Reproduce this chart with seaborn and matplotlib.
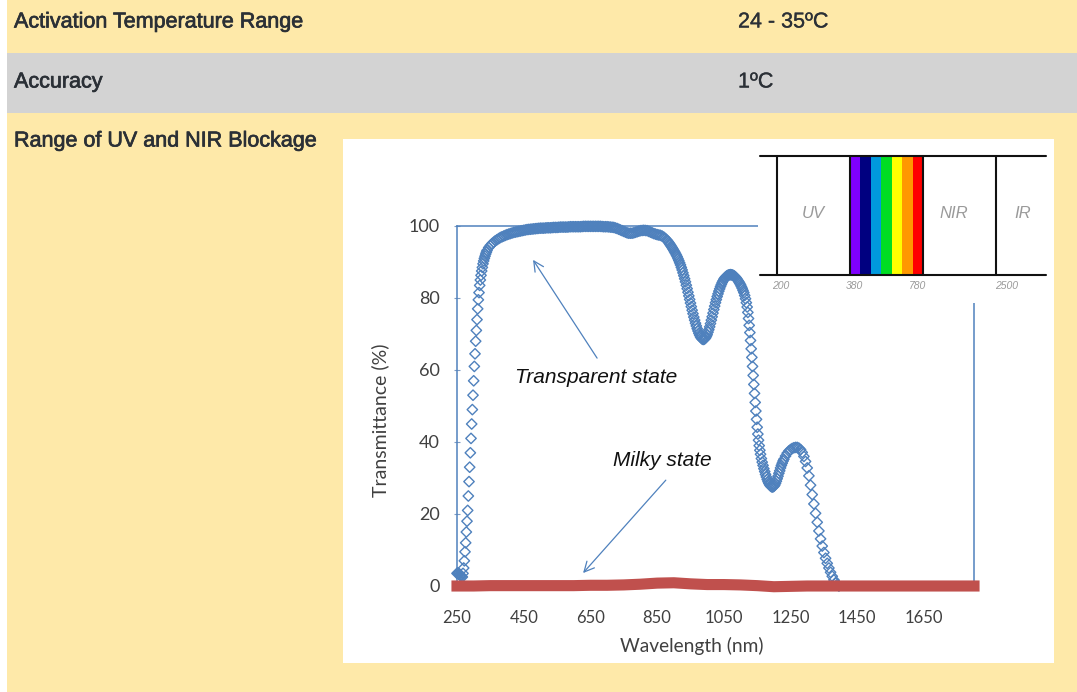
import matplotlib
matplotlib.use("Agg")
import matplotlib.pyplot as plt
import matplotlib.patheffects as pe
from matplotlib.patches import Rectangle
import seaborn as sns

# ==================== Data ====================
ROW_LABELS = ["Activation Temperature Range", "Accuracy", "Range of UV and NIR Blockage"]
ROW_VALUES = ["24 - 35ºC", "1ºC"]

# Transparent state
WL_TRANS = [
    250, 252, 254, 256, 258, 260, 262, 264, 266,
    268, 270, 272, 274, 276, 278, 280, 282, 284, 286, 288, 290, 292, 294,
    296, 298, 300, 302, 304, 306, 308, 310, 312, 314, 316, 318, 320,
    322, 324, 326, 328, 330, 332, 334, 336, 338,
    340, 345, 350, 355, 360, 365, 370, 375, 380, 385, 390, 395, 400, 405,
    410, 415, 420, 425, 430, 435, 440, 445, 450, 455, 460, 465, 470, 475,
    480, 485, 490, 495, 500, 505, 510, 515, 520, 525, 530, 535, 540, 545,
    550, 555, 560, 565, 570, 575, 580, 585, 590, 595, 600, 605, 610, 615,
    620, 625, 630, 635, 640, 645, 650, 655, 660, 665, 670, 675, 680, 685,
    690, 695, 700, 705, 710, 715, 720, 725, 730, 735, 740, 745, 750, 755,
    760, 765, 770, 775, 780, 785, 790, 795, 800, 805, 810, 815, 820, 825,
    830, 835, 840, 845, 850, 855, 860, 865, 870, 875,
    880, 882.5, 885, 887.5, 890, 892.5, 895, 897.5, 900, 902.5, 905, 907.5,
    910, 912.5, 915, 917.5, 920, 922.5, 925, 927.5, 930, 932.5, 935, 937.5,
    940, 942.5, 945, 947.5, 950, 952.5, 955, 957.5, 960, 962.5, 965, 967.5,
    970, 972.5, 975, 977.5, 980, 982.5, 985, 987.5, 990, 992.5, 995, 997.5,
    1000, 1002.5, 1005, 1007.5, 1010, 1012.5, 1015, 1017.5, 1020, 1022.5,
    1025, 1027.5, 1030, 1032.5, 1035, 1037.5, 1040, 1042.5, 1045, 1047.5,
    1050, 1052.5, 1055, 1057.5, 1060, 1062.5, 1065, 1067.5, 1070, 1072.5,
    1075, 1077.5, 1080, 1082.5, 1085, 1087.5, 1090, 1092.5, 1095, 1097.5,
    1100, 1102.5, 1105, 1107.5, 1110, 1112.5, 1115, 1117.5, 1120,
    1122, 1124, 1126, 1128, 1130, 1132, 1134, 1136, 1138, 1140, 1142, 1144,
    1146, 1148, 1150, 1152, 1154, 1156, 1158, 1160,
    1162.5, 1165, 1167.5, 1170, 1172.5, 1175, 1177.5, 1180, 1182.5, 1185,
    1187.5, 1190, 1192.5, 1195, 1197.5, 1200, 1202.5, 1205, 1207.5, 1210,
    1212.5, 1215, 1217.5, 1220, 1222.5, 1225, 1227.5, 1230, 1235, 1240,
    1245, 1250, 1255, 1260, 1265, 1270, 1275, 1280,
    1285, 1290, 1295, 1300, 1305, 1310, 1315, 1320, 1325, 1330, 1335, 1340,
    1345, 1350, 1355, 1360, 1365, 1370, 1375, 1380, 1385, 1390, 1395,
]
T_TRANS = [
    3.5, 3.6, 3.5, 3.4, 3.2, 3.0, 2.8, 2.6, 2.5,
    3.5, 5.0, 7.0, 9.5, 12, 15, 18, 21, 25, 29, 33, 37, 41, 45,
    49, 53, 57, 61, 64.5, 68, 71, 74, 77, 79.5, 81.5, 83.5, 85,
    86.3, 87.5, 88.5, 89.5, 90.3, 91.0, 91.6, 92.2, 92.7,
    93.2, 94.0, 94.6, 95.1, 95.5, 95.9, 96.2, 96.5, 96.8, 97.0, 97.2, 97.4, 97.6, 97.75,
    97.9, 98.05, 98.2, 98.3, 98.4, 98.5, 98.6, 98.7, 98.8, 98.9, 99.0, 99.05, 99.1, 99.15,
    99.2, 99.25, 99.3, 99.35, 99.4, 99.4, 99.4, 99.45, 99.5, 99.5, 99.5, 99.55, 99.6, 99.6,
    99.6, 99.65, 99.7, 99.7, 99.7, 99.7, 99.7, 99.75, 99.8, 99.8, 99.8, 99.8, 99.8, 99.8,
    99.8, 99.85, 99.9, 99.9, 99.9, 99.9, 99.9, 99.9, 99.9, 99.9, 99.9, 99.9, 99.9, 99.85,
    99.8, 99.8, 99.8, 99.75, 99.7, 99.65, 99.6, 99.45, 99.3, 99.1, 98.9, 98.7, 98.5, 98.3,
    98.1, 98.0, 98.0, 98.0, 98.1, 98.25, 98.4, 98.55, 98.7, 98.75, 98.8, 98.75, 98.7, 98.5,
    98.3, 98.1, 97.9, 97.75, 97.6, 97.5, 97.4, 97.2, 96.9, 96.5,
    96.0, 95.7, 95.4, 95.05, 94.7, 94.35, 94.0, 93.6, 93.2, 92.8, 92.4, 91.95,
    91.5, 90.95, 90.4, 89.8, 89.2, 88.5, 87.8, 87.0, 86.2, 85.35, 84.5, 83.55,
    82.6, 81.6, 80.6, 79.6, 78.6, 77.6, 76.6, 75.65, 74.7, 73.85, 73.0, 72.25,
    71.5, 70.85, 70.2, 69.7, 69.2, 68.9, 68.6, 68.5, 68.5, 68.65, 68.9, 69.3,
    69.8, 70.5, 71.2, 72.0, 72.9, 73.85, 74.8, 75.8, 76.8, 77.75,
    78.7, 79.55, 80.4, 81.15, 81.9, 82.55, 83.2, 83.75, 84.3, 84.75,
    85.2, 85.5, 85.8, 86.0, 86.2, 86.3, 86.4, 86.45, 86.5, 86.45,
    86.4, 86.3, 86.2, 86.0, 85.8, 85.5, 85.2, 84.85, 84.5, 84.1,
    83.7, 83.2, 82.7, 82.1, 81.5, 80.7, 79.8, 78.7, 77.5,
    76.0, 74.3, 72.4, 70.4, 68.2, 65.9, 63.5, 61.0, 58.5, 56.0, 53.5, 51.0,
    48.6, 46.3, 44.1, 42.2, 40.5, 39.0, 37.7, 36.6,
    35.4, 34.4, 33.5, 32.6, 31.8, 31.0, 30.3, 29.6, 29.0, 28.5,
    28.1, 27.8, 27.6, 27.5, 27.55, 27.7, 28.0, 28.5, 29.1, 29.8,
    30.5, 31.3, 32.0, 32.8, 33.5, 34.1, 34.7, 35.2, 36.1, 36.9,
    37.5, 37.9, 38.2, 38.4, 38.5, 38.5, 38.3, 37.9,
    37.1, 36.0, 34.6, 32.8, 30.6, 28.0, 25.4, 22.8, 20.2, 17.7, 15.3, 13.1,
    11.1, 9.3, 7.7, 6.3, 5.0, 3.8, 2.7, 1.7, 0.9, 0.4, 0.0,
]

# Milky state
WL_MILKY = [250, 300, 350, 400, 450, 500, 550, 600, 650, 700, 750, 800, 850, 900,
            950, 1000, 1050, 1100, 1150, 1200, 1250, 1300, 1350, 1400, 1450, 1500,
            1550, 1600, 1650, 1700, 1750, 1800]
T_MILKY = [0.0, 0.0, 0.1, 0.1, 0.1, 0.1, 0.1, 0.1, 0.2, 0.2, 0.3, 0.5, 0.8, 0.9,
           0.6, 0.4, 0.4, 0.3, 0.1, -0.2, -0.1, 0.0, 0.0, 0.0, 0.0, 0.0,
           0.0, 0.0, 0.0, 0.0, 0.0, 0.0]

X_TICKS = [250, 450, 650, 850, 1050, 1250, 1450, 1650]
Y_TICKS = [0, 20, 40, 60, 80, 100]

# Spectrum inset
BAND_EDGES = ["200", "380", "780", "2500"]
REGIONS = ["UV", "NIR", "IR"]
REGION_POS = [0.5, 2.42, 3.37]
RAINBOW = ["#7F00FF", "#000080", "#0099DD", "#00DD22", "#FFFF00", "#FF9900", "#FF0000"]

# ==================== Style ====================
W, H = 1077, 692
YELLOW = "#FEE9A9"
GRAY = "#D3D3D3"
TEXT = "#2B3036"
BLUE = "#4F81BD"
RED = "#C0504D"
AXTXT = "#404040"

sns.set_theme(style="white")
plt.rcParams["font.family"] = ["Lato", "DejaVu Sans"]


def px_rect(x0, y0, x1, y1, color):
    """Rectangle in pixel coordinates (y from top)."""
    return Rectangle((x0 / W, 1 - y1 / H), (x1 - x0) / W, (y1 - y0) / H,
                     transform=fig.transFigure, fc=color, ec="none", zorder=-10)


fig = plt.figure(figsize=(W / 100, H / 100), dpi=100)
fig.patch.set_facecolor(YELLOW)
fig.patches.append(px_rect(0, 0, 7, H, "white"))
fig.patches.append(px_rect(7, 53, W, 113, GRAY))
fig.patches.append(px_rect(343, 139, 1054, 663, "white"))

# ---- table text ----
for label, yp in zip(ROW_LABELS, [22, 82, 141]):
    fig.text(14 / W, 1 - yp / H, label, ha="left", va="center", fontsize=15.5,
             family="Liberation Sans", color=TEXT,
             path_effects=[pe.withStroke(linewidth=0.5, foreground=TEXT)])
for val, yp in zip(ROW_VALUES, [22, 82]):
    fig.text(738 / W, 1 - yp / H, val, ha="left", va="center", fontsize=15.5,
             family="Liberation Sans", color=TEXT,
             path_effects=[pe.withStroke(linewidth=0.2, foreground=TEXT)])

# ---- main chart ----
ax = fig.add_axes([457 / W, 1 - 586 / H, 517 / W, 360 / H])
ax.set_facecolor("white")

sns.scatterplot(x=WL_TRANS, y=T_TRANS, marker="D", s=28, color="none",
                edgecolor=BLUE, linewidth=1.0, ax=ax, zorder=3, clip_on=False)
sns.lineplot(x=WL_MILKY, y=T_MILKY, color=RED, lw=8, ax=ax, zorder=4,
             errorbar=None, solid_capstyle="projecting", clip_on=False)

ax.set_xlim(250, 1800)
ax.set_ylim(0, 100)
ax.set_xticks(X_TICKS)
ax.set_yticks(Y_TICKS)
ax.grid(False)

for side in ["left", "top", "right"]:
    ax.spines[side].set_color(BLUE)
    ax.spines[side].set_linewidth(1.1)
ax.spines["bottom"].set_visible(False)

ax.tick_params(axis="y", left=True, direction="inout", length=5, width=0.8,
               color="#7F9CC4", labelsize=13, labelcolor=AXTXT, pad=10)
ax.tick_params(axis="x", bottom=True, length=0, labelsize=12,
               labelcolor=AXTXT, pad=17)

ax.set_xlabel("Wavelength (nm)", fontsize=13.8, color=AXTXT)
ax.xaxis.set_label_coords((692 - 457) / 517, (586 - 646) / 360)
ax.xaxis.label.set_va("center")
ax.set_ylabel("Transmittance (%)", fontsize=14, color=AXTXT)
ax.yaxis.set_label_coords((380 - 457) / 517, (586 - 420) / 360)
ax.yaxis.label.set_va("center")

arrow = dict(arrowstyle="->,head_length=0.6,head_width=0.3", color=BLUE, lw=0.9,
             shrinkA=0, shrinkB=0)
ax.annotate("", xy=(478, 90.6), xytext=(670, 63.3), arrowprops=arrow, zorder=5)
ax.text(668, 58, "Transparent state", ha="center", va="center", fontsize=15,
        style="italic", family="Liberation Sans", color="#111111")
ax.annotate("", xy=(628, 3.6), xytext=(876, 29.4), arrowprops=arrow, zorder=5)
ax.text(865, 35, "Milky state", ha="center", va="center", fontsize=15,
        style="italic", family="Liberation Sans", color="#111111")

# ---- spectrum inset ----
axin = fig.add_axes([758 / W, 1 - 303 / H, 296 / W, 155 / H])
axin.set_facecolor("white")
axin.set_xlim(-0.26, 3.795)
axin.set_ylim(0, 1)
axin.set_xticks([])
axin.set_yticks([])
for s in axin.spines.values():
    s.set_visible(False)

y_bot, y_top = 0.181, 0.948
n = len(RAINBOW)
axin.bar([1 + (i + 0.5) / n for i in range(n)], y_top - y_bot, bottom=y_bot,
         width=1 / n, color=RAINBOW, linewidth=0)
for i in range(len(BAND_EDGES)):
    axin.plot([i, i], [y_bot, y_top], color="#111111", lw=1.5)
for yy in [y_bot, y_top]:
    axin.axhline(yy, xmin=0.007, xmax=0.973, color="#111111", lw=1.5)
for lab, xp in zip(REGIONS, REGION_POS):
    axin.text(xp, 0.58, lab, ha="center", va="center", fontsize=12,
              style="italic", family="Liberation Sans", color="#9A9A9A")
for i, lab in enumerate(BAND_EDGES):
    off = [0.05, 0.06, -0.07, 0.15][i]
    axin.text(i + off, 0.11, lab, ha="center", va="center", fontsize=7.5,
              style="italic", family="Liberation Sans", color="#9A9A9A")

fig.savefig("out.png", dpi=100)
